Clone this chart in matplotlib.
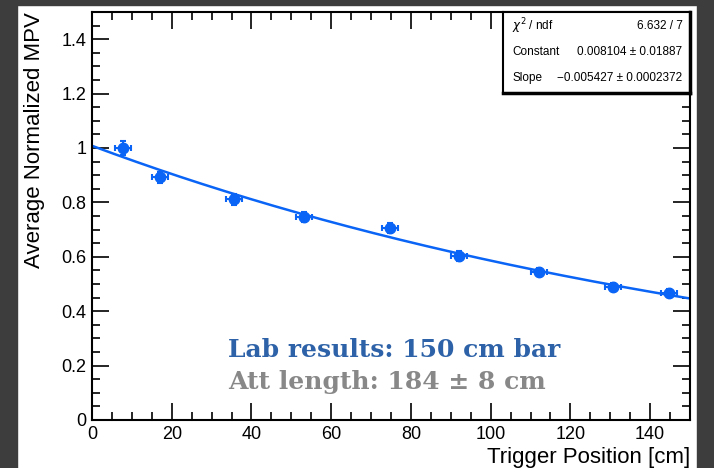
import numpy as np
import matplotlib
matplotlib.use('Agg')
import matplotlib.pyplot as plt
from matplotlib.patches import Rectangle

# measured points (trigger position, normalized MPV)
pos = [7.8, 17.1, 35.6, 53.2, 74.7, 92.1, 112.1, 130.7, 144.7]
pos_err = [2.0, 2.0, 2.0, 2.0, 2.0, 2.0, 2.0, 2.0, 2.0]
mpv = [1.000, 0.893, 0.812, 0.746, 0.706, 0.603, 0.544, 0.489, 0.467]
mpv_err = [0.025, 0.020, 0.020, 0.018, 0.018, 0.018, 0.016, 0.015, 0.015]

# expo fit parameters from the stat box
fit_const = 0.008104
fit_slope = -0.005427

xticks = [0, 20, 40, 60, 80, 100, 120, 140]
yticks = [0, 0.2, 0.4, 0.6, 0.8, 1.0, 1.2, 1.4]
ylabels = ['0', '0.2', '0.4', '0.6', '0.8', '1', '1.2', '1.4']

blue = '#0a64f5'

plt.rcParams['font.family'] = ['Liberation Sans', 'DejaVu Sans']

fig = plt.figure(figsize=(7.14, 4.68), dpi=100)
ax = fig.add_axes([92 / 714, 48 / 468, 598 / 714, 408 / 468])

# dark frame around the canvas
fig.patches.append(Rectangle((0, 0), 17 / 714, 1, transform=fig.transFigure, color='#3d3d3d', zorder=0))
fig.patches.append(Rectangle((697 / 714, 0), 17 / 714, 1, transform=fig.transFigure, color='#3d3d3d', zorder=0))
fig.patches.append(Rectangle((0, 1 - 5 / 468), 1, 5 / 468, transform=fig.transFigure, color='#3d3d3d', zorder=0))

# fit curve
xf = np.linspace(0, 150, 300)
ax.plot(xf, np.exp(fit_const + fit_slope * xf), color=blue, lw=1.8, zorder=2)

ax.errorbar(pos, mpv, xerr=pos_err, yerr=mpv_err, fmt='o', color=blue, ms=7.5,
            elinewidth=1.5, capsize=2.5, capthick=1.5, zorder=3)

ax.set_xlim(0, 150)
ax.set_ylim(0, 1.5)
ax.set_xticks(xticks)
ax.set_yticks(yticks)
ax.set_yticklabels(ylabels)
ax.set_xticks(np.arange(0, 151, 5), minor=True)
ax.set_yticks(np.arange(0, 1.51, 0.05), minor=True)
ax.tick_params(which='both', direction='in', top=True, right=True, labelsize=13, width=1.2)
ax.tick_params(which='major', length=12, pad=4)
ax.tick_params(which='minor', length=6)
for s in ax.spines.values():
    s.set_linewidth(1.5)

ax.set_xlabel('Trigger Position [cm]', fontsize=16, loc='right', labelpad=3)
ax.set_ylabel('Average Normalized MPV', fontsize=16, loc='top', labelpad=12)

# stat box
sb = ax.inset_axes([0.687, 0.801, 0.313, 0.199])
sb.set_xticks([])
sb.set_yticks([])
for s in sb.spines.values():
    s.set_linewidth(1.5)
sb.spines['right'].set_linewidth(2.5)
sb.spines['bottom'].set_linewidth(2.5)
rows = [(r'$\chi^2$ / ndf', '6.632 / 7'),
        ('Constant', '0.008104 \u00b1 0.01887'),
        ('Slope', '\u22120.005427 \u00b1 0.0002372')]
for i, (lab, val) in enumerate(rows):
    yy = 0.83 - i * 0.32
    sb.text(0.05, yy, lab, fontsize=8.5, va='center', ha='left', transform=sb.transAxes)
    sb.text(0.96, yy, val, fontsize=8.5, va='center', ha='right', transform=sb.transAxes)

ax.text(0.228, 0.154, 'Lab results: 150 cm bar', transform=ax.transAxes, fontsize=18,
        fontweight='bold', family='DejaVu Serif', color='#2e62a8', va='baseline')
ax.text(0.228, 0.076, 'Att length: 184 \u00b1 8 cm', transform=ax.transAxes, fontsize=18,
        fontweight='bold', family='DejaVu Serif', color='#888888', va='baseline')

fig.savefig('out.png', dpi=100)
